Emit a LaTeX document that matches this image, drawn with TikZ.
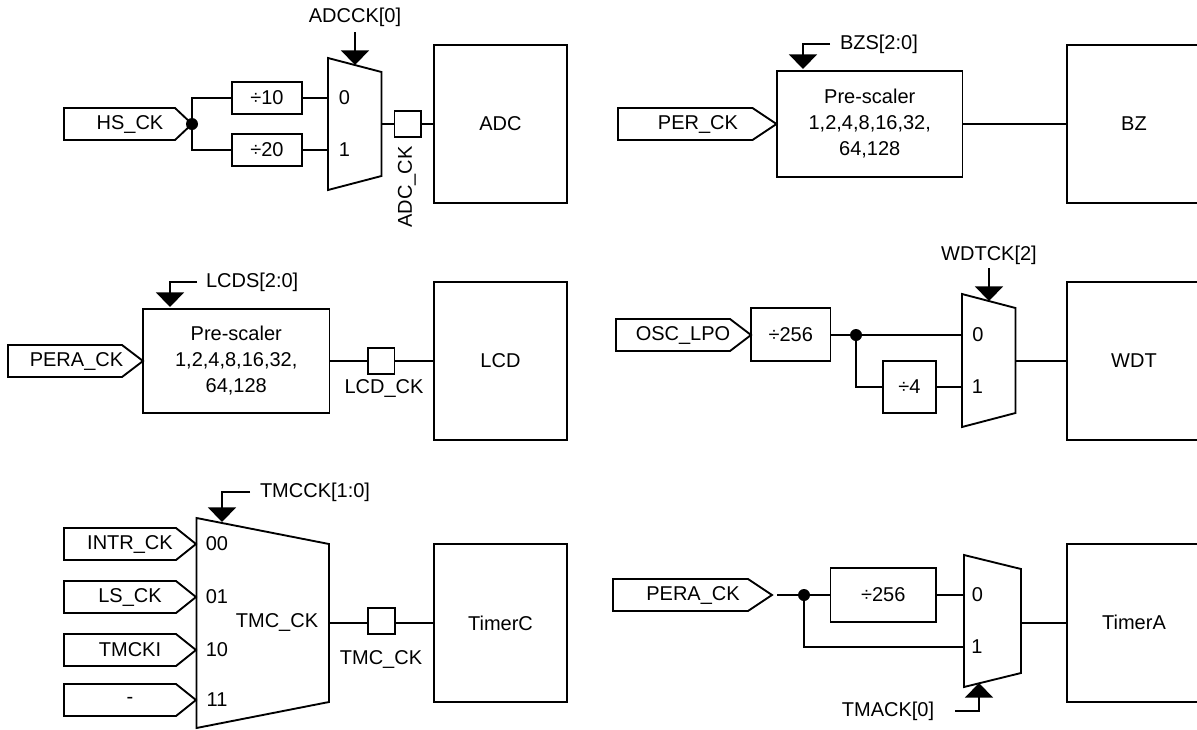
\documentclass[tikz,border=0pt]{standalone}
\usepackage{fontspec}
\setmainfont{Liberation Sans}
\usetikzlibrary{arrows.meta,calc}
\tikzset{
  x=0.75pt,y=-0.75pt,
  wire/.style={line width=1.4pt,line join=miter},
  span/.style n args={4}{at={({(#1+#2)/2},{(#3+#4)/2})},minimum width={(#2-#1)*0.75pt},minimum height={(#4-#3)*0.75pt}},
  block/.style={draw,wire,shape=rectangle,inner sep=0pt,outer sep=0pt,align=center,font=\fontsize{15}{19.5}\selectfont},
  ghost/.style={shape=rectangle,inner sep=0pt,outer sep=0pt},
  txt/.style={inner sep=0pt,outer sep=0pt,font=\fontsize{15}{18}\selectfont},
  ctl/.style={wire,-{Triangle[width=21pt,length=11pt]}},
  dot/.style={circle,fill=black,draw=none,minimum size=9pt,inner sep=0pt,outer sep=0pt},
}
\newcommand{\tagtext}{}
\newcommand{\tagnode}[7]{% name x1 x2 y1 y2 tiplength text-center-x
  \node[ghost,span={#2}{#3}{#4}{#5}] (#1) {};
  \draw[wire] (#1.north west) -- ([xshift=-#6*0.75pt]#1.north east) -- (#1.east)
     -- ([xshift=-#6*0.75pt]#1.south east) -- (#1.south west) -- cycle;
  \node[txt] (#1text) at (#7,{(#4+#5)/2}) {\tagtext};
}
\newcommand{\muxnode}[6]{% name x1 x2 y1 y2 inset
  \node[ghost,span={#2}{#3}{#4}{#5}] (#1) {};
  \draw[wire] (#1.north west) -- ([yshift=-#6*0.75pt]#1.north east)
     -- ([yshift=#6*0.75pt]#1.south east) -- (#1.south west) -- cycle;
}
\begin{document}
\begin{tikzpicture}
\path[use as bounding box,fill=white] (0,0) rectangle (1197,729);
\clip (0,0) rectangle (1197,729);

% ===== ADC =====
\renewcommand{\tagtext}{HS\_CK}\tagnode{hs}{64}{192}{108}{140}{17}{130}
\node[dot] (hsdot) at (192,124) {};
\node[block,span={232}{302}{82}{114}] (d10) {÷10};
\node[block,span={232}{302}{134}{166}] (d20) {÷20};
\muxnode{adcmux}{328}{381.5}{58}{190}{14}
\node[txt] (adc0) at (344.5,98) {0};
\node[txt] (adc1) at (344.5,150) {1};
\node[block,span={394.5}{421}{111}{137}] (adcgate) {};
\node[block,span={434}{567}{45}{203}] (adc) {ADC};
\draw[wire] (d10.west) -| (hsdot.center) |- (d20.west);
\draw[wire] (d10.east) -- (d10.east -| adcmux.west);
\draw[wire] (d20.east) -- (d20.east -| adcmux.west);
\draw[wire] (adcmux.east |- adcgate.west) -- (adcgate.west);
\draw[wire] (adcgate.east) -- (adc.west |- adcgate.east);
\node[txt] (adcck) at (355,17) {ADCCK[0]};
\coordinate (adctip) at (355,65);
\coordinate (adcstart) at (355,32);
\draw[ctl] (adcstart) -- (adctip);
\node[txt,rotate=90] (adcclk) at (407,187) {ADC\_CK};

% ===== BZ =====
\renewcommand{\tagtext}{PER\_CK}\tagnode{per}{618}{776.5}{108}{140}{24}{698}
\node[block,span={777}{962.5}{71}{177}] (bzpre) {Pre-scaler\\1,2,4,8,16,32,\\64,128};
\node[block,span={1067}{1210}{45}{203}] (bz) {};
\node[txt] (bzt) at (1134,124) {BZ};
\draw[wire] (bzpre.east) -- (bz.west);
\node[txt,anchor=west] (bzs) at (840,44) {BZS[2:0]};
\coordinate (bztip) at (803,69);
\coordinate (bzstart) at (830,44);
\draw[ctl] (bzstart) -| (bztip);

% ===== LCD =====
\renewcommand{\tagtext}{PERA\_CK}\tagnode{pera}{8}{143}{345}{377}{21}{76.5}
\node[block,span={143}{329.5}{309}{413}] (lcdpre) {Pre-scaler\\1,2,4,8,16,32,\\64,128};
\node[block,span={368}{394.5}{348}{374}] (lcdgate) {};
\node[block,span={434}{567}{282}{440}] (lcd) {LCD};
\draw[wire] (lcdpre.east) -- (lcdgate.west);
\draw[wire] (lcdgate.east) -- (lcd.west);
\node[txt] (lcdclk) at (384,388) {LCD\_CK};
\node[txt,anchor=west] (lcds) at (206,282) {LCDS[2:0]};
\coordinate (lcdtip) at (170,307);
\coordinate (lcdstart) at (197,282);
\draw[ctl] (lcdstart) -| (lcdtip);

% ===== WDT =====
\renewcommand{\tagtext}{OSC\_LPO}\tagnode{osc}{616}{751}{319}{351}{21}{683}
\node[block,span={751}{830.5}{308}{361}] (w256) {÷256};
\node[dot] (wdot) at (856,335) {};
\node[block,span={883}{936}{361}{413}] (w4) {÷4};
\muxnode{wmux}{962}{1015.5}{294}{427}{14}
\node[txt] (w0) at (978,335) {0};
\node[txt] (w1) at (977.5,387) {1};
\node[block,span={1067}{1210}{282}{440}] (wdt) {};
\node[txt] (wdtt) at (1134,361) {WDT};
\draw[wire] (w256.east |- wdot) -- (wdot.center) -- (wdot -| wmux.west);
\draw[wire] (wdot.center) |- (w4.west);
\draw[wire] (w4.east) -- (w4.east -| wmux.west);
\draw[wire] (wmux.east |- wdt.west) -- (wdt.west);
\node[txt] (wdtck) at (989,255) {WDTCK[2]};
\coordinate (wtip) at (989,301);
\coordinate (wstart) at (989,268);
\draw[ctl] (wstart) -- (wtip);

% ===== TimerC =====
\renewcommand{\tagtext}{INTR\_CK}\tagnode{intr}{64}{196}{528}{560}{20}{130}
\renewcommand{\tagtext}{LS\_CK}\tagnode{ls}{64}{196}{581}{613}{20}{130}
\renewcommand{\tagtext}{TMCKI}\tagnode{tmcki}{64}{196}{634}{666}{20}{130}
\renewcommand{\tagtext}{-}\tagnode{none}{64}{196}{684}{716}{20}{130}
\muxnode{tmux}{196.5}{329}{518}{728}{26}
\node[txt] (t00) at (217,544) {00};
\node[txt] (t01) at (217,597) {01};
\node[txt] (t10) at (217,650) {10};
\node[txt] (t11) at (217,700) {11};
\node[txt] (tname) at (277,622) {TMC\_CK};
\node[block,span={368}{395}{608}{634}] (tgate) {};
\node[block,span={434}{567}{544}{702}] (timerc) {TimerC};
\coordinate (twire) at (381,623);
\draw[wire] (tmux.east |- twire) -- (twire -| tgate.west);
\draw[wire] (twire -| tgate.east) -- (twire -| timerc.west);
\node[txt] (tclk) at (381,659) {TMC\_CK};
\node[txt,anchor=west] (tmcck) at (260,492) {TMCCK[1:0]};
\coordinate (ttip) at (222,522);
\coordinate (tstart) at (250,492);
\draw[ctl] (tstart) -| (ttip);

% ===== TimerA =====
\renewcommand{\tagtext}{PERA\_CK}\tagnode{perb}{613}{772}{579}{611}{24}{693}
\coordinate (astart) at (777,595);
\node[dot] (adot) at (804,595) {};
\node[block,span={830.5}{936}{568}{622}] (a256) {÷256};
\muxnode{amux}{964}{1021}{555}{687}{14}
\node[txt] (a0) at (977.5,595) {0};
\node[txt] (a1) at (977,647) {1};
\node[block,span={1067}{1210}{544}{702}] (timera) {};
\node[txt] (atext) at (1134,622) {TimerA};
\draw[wire] (astart) -- (a256.west |- astart);
\draw[wire] (a256.east |- astart) -- (astart -| amux.west);
\coordinate (alow) at (964,647);
\draw[wire] (adot.center) |- (alow);
\draw[wire] (amux.east |- timera.west) -- (timera.west);
\node[txt] (tmack) at (888,711) {TMACK[0]};
\coordinate (atip) at (979,683);
\coordinate (astart2) at (955,711);
\draw[ctl] (astart2) -| (atip);
\end{tikzpicture}
\end{document}
